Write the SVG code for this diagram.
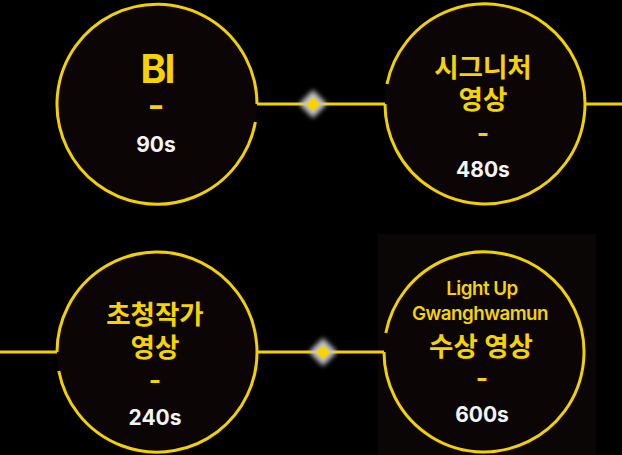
<svg xmlns="http://www.w3.org/2000/svg" width="622" height="455" viewBox="0 0 622 455">
<defs>
<style>
.ring{fill:#0b0505;stroke:none}
.arc{fill:none;stroke:#f3d000;stroke-width:3}
.wire{fill:none;stroke:#f3d000;stroke-width:3}
.t{font-family:Inter,"Noto Sans CJK KR",sans-serif;font-weight:700;text-anchor:middle}
.y{fill:#f7d300}
.w{fill:#f4f4f4}
.k{font-size:26.5px}
.s{font-size:21px}
.l{font-size:18.8px;font-weight:600;letter-spacing:-0.5px}
.glow{fill:#c4c4c4;filter:url(#blur)}
.dia{fill:#f7d300}
</style>
<filter id="blur" x="-1" y="-1" width="3" height="3"><feGaussianBlur stdDeviation="2.6"/></filter>
</defs>
<rect width="622" height="455" fill="#000"/>
<rect x="378" y="234" width="218" height="221" fill="#0b0606"/>

<g id="connectors">
<path class="wire" d="M257 104 H385"/>
<path class="wire" d="M585 104 H622"/>
<path class="wire" d="M0 352 H57"/>
<path class="wire" d="M257 352 H384"/>
<g id="diamond1">
<path class="glow" d="M313 90 L327 104 L313 118 L299 104 Z"/>
<path class="dia" d="M313 97 L320 104 L313 111 L306 104 Z"/>
</g>
<g id="diamond2">
<path class="glow" d="M323 338 L337 352 L323 366 L309 352 Z"/>
<path class="dia" d="M323 345 L330 352 L323 359 L316 352 Z"/>
</g>
</g>

<g id="node-bi">
<circle class="ring" cx="157" cy="104" r="100"/>
<path class="arc" d="M257 104 A100 100 0 1 0 255.4 122"/>
<text class="t y" x="157" y="83" font-size="39" letter-spacing="-2">BI</text>
<text class="t y" x="156" y="113.5" font-size="20" font-weight="800" stroke="#f7d300" stroke-width="1.4" transform="translate(156 0) scale(1.5 1) translate(-156 0)">-</text>
<text class="t w s" x="156" y="152">90s</text>
</g>

<g id="node-signature">
<circle class="ring" cx="485" cy="104" r="100"/>
<path class="arc" d="M385 104 A100 100 0 1 0 387 84"/>
<text class="t y k" x="483" y="77">시그니처</text>
<text class="t y k" x="483" y="109">영상</text>
<text class="t y k" x="483" y="142">-</text>
<text class="t w s" x="483" y="177">480s</text>
</g>

<g id="node-invited">
<circle class="ring" cx="157" cy="352" r="100"/>
<path class="arc" d="M57 352 A100 100 0 1 1 58.8 371"/>
<text class="t y k" x="155" y="324">초청작가</text>
<text class="t y k" x="155" y="357">영상</text>
<text class="t y k" x="155" y="389">-</text>
<text class="t w s" x="155" y="425">240s</text>
</g>

<g id="node-award">
<circle class="ring" cx="484" cy="352" r="100"/>
<path class="arc" d="M384 352 A100 100 0 1 0 385.8 333"/>
<text class="t y l" x="482" y="295">Light Up</text>
<text class="t y l" x="480" y="320">Gwanghwamun</text>
<text class="t y k" x="481" y="356">수상 영상</text>
<text class="t y k" x="482" y="387">-</text>
<text class="t w s" x="482" y="422">600s</text>
</g>
</svg>
